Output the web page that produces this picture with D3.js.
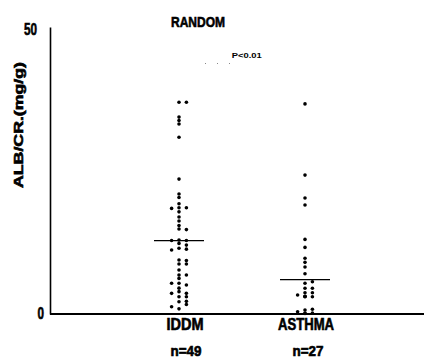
<!DOCTYPE html>
<html><head><meta charset="utf-8">
<script src="https://cdn.jsdelivr.net/npm/d3@7"></script>
<style>body{margin:0;background:#fff} svg{display:block} text.heavy{stroke:#000;stroke-width:0.6px;paint-order:stroke}</style>
</head>
<body><svg id="c" width="427" height="358"></svg>
<script>
// ---- data ----
const categories = ["IDDM", "ASTHMA"];
const countLabels = ["n=49", "n=27"];
const iddm = [36.9, 36.9, 34.3, 33.7, 33.1, 30.8, 23.5, 20.9, 20.3, 19.2,
  18.5, 18.5, 18.4, 17.8, 16.9, 16.2, 15.4, 14.8, 14.7, 12.9,
  12.8, 12.8, 12.3, 12.0, 11.45, 11.3, 11.15, 9.4, 9.3, 8.7,
  8.7, 7.66, 0.9, 6.8, 6.8, 6.2, 5.35, 5.05, 5.35, 4.5,
  3.89, 3.6, 3.6, 3.0, 3.0, 2.14, 2.2, 1.65, 1.27];
const asthma = [36.6, 24.2, 20.2, 19.0, 13.0, 11.6, 9.7, 9.0, 8.2, 7.0,
  5.35, 5.63, 4.48, 4.48, 3.71, 3.71, 3.31, 3.01, 3.01, 0.7,
  0.82, 0.15, 0.15, 0.4, 0.1, 3.1, 3.05];
const medians = [12.8, 6.0];
const yTicks = [0, 50];
const titleText = "RANDOM";
const pText = "P<0.01";
const yLabelText = "ALB/CR.(mg/g)";

// ---- layout ----
const plotLeft = 50, plotRight = 424, plotTop = 27, plotBottom = 314;
const svg = d3.select("#c");
const font = "'Liberation Sans',Arial,sans-serif";

const y = d3.scaleLinear().domain([0, 50]).range([plotBottom, plotTop]);
const x = d3.scalePoint().domain(categories).range([179, 305]);
const slot = d3.scaleLinear().domain([-1, 1]).range([-7.4, 7.4]);

function swarm(vals) {
  const placed = [];
  const thr = 0.52;
  return vals.map(v => {
    let s = [0, 1, -1].find(k => !placed.some(p => p.s === k && Math.abs(p.v - v) < thr));
    if (s === undefined) s = 0;
    placed.push({v, s});
    return {v, s};
  });
}
function fit(sel, len) {
  sel.attr("textLength", len).attr("lengthAdjust", "spacingAndGlyphs");
}

// y axis
const yAxis = svg.append("g").attr("transform", `translate(${plotLeft},0)`)
  .call(d3.axisLeft(y).tickValues(yTicks).tickSize(0).tickSizeOuter(0).tickPadding(6).tickFormat(d3.format("d")));
yAxis.select(".domain").attr("stroke", "#000").attr("stroke-width", 1.6);
yAxis.selectAll("text").attr("class", "heavy").attr("font-family", font).attr("font-weight", "bold")
  .attr("font-size", 16).attr("fill", "#000")
  .attr("textLength", d => d === 50 ? 13 : 6.5).attr("lengthAdjust", "spacingAndGlyphs");
yAxis.selectAll(".tick").filter(d => d === 50).select("text").attr("dx", -7).attr("dy", "0.45em");
yAxis.selectAll(".tick").filter(d => d === 0).select("text").attr("dy", "0.3em");

// x axis line
svg.append("line").attr("x1", plotLeft).attr("x2", plotRight)
  .attr("y1", y(0)).attr("y2", y(0)).attr("stroke", "#000").attr("stroke-width", 2);

// dots
const groups = [iddm, asthma];
groups.forEach((vals, i) => {
  const cx = x(categories[i]);
  svg.append("g").selectAll("circle").data(swarm(vals)).join("circle")
    .attr("cx", d => cx + slot(d.s))
    .attr("cy", d => y(d.v))
    .attr("r", 1.8)
    .attr("fill", "#000");
});

// medians
svg.append("g").selectAll("line").data(medians).join("line")
  .attr("x1", (d, i) => x(categories[i]) - 25)
  .attr("x2", (d, i) => x(categories[i]) + 25)
  .attr("y1", d => y(d)).attr("y2", d => y(d))
  .attr("stroke", "#000").attr("stroke-width", 1.3);

// category labels
const catLen = [37, 56];
svg.append("g").selectAll("text").data(categories).join("text")
  .attr("class", "heavy")
  .attr("x", (d, i) => x(d) + (i === 0 ? 6 : 1)).attr("y", 330)
  .attr("text-anchor", "middle").attr("font-family", font)
  .attr("font-weight", "bold").attr("font-size", 16).text(d => d)
  .attr("textLength", (d, i) => catLen[i]).attr("lengthAdjust", "spacingAndGlyphs");
svg.append("g").selectAll("text").data(countLabels).join("text")
  .attr("class", "heavy")
  .attr("x", (d, i) => x(categories[i]) + (i === 0 ? 7 : 3)).attr("y", 356)
  .attr("text-anchor", "middle").attr("font-family", font)
  .attr("font-weight", "bold").attr("font-size", 14).text(d => d)
  .attr("textLength", 31).attr("lengthAdjust", "spacingAndGlyphs");

// title
svg.append("text").attr("class", "heavy").attr("x", 198).attr("y", 26.5).attr("text-anchor", "middle")
  .attr("font-family", font).attr("font-weight", "bold").attr("font-size", 15).text(titleText)
  .call(fit, 54);

// p value
svg.append("text").attr("x", 246.7).attr("y", 57.5).attr("text-anchor", "middle")
  .attr("font-family", font).attr("font-weight", "bold").attr("font-size", 8).text(pText)
  .call(fit, 30);
svg.append("line").attr("x1", 205).attr("x2", 241).attr("y1", 63.5).attr("y2", 63.5)
  .attr("stroke", "#888").attr("stroke-width", 1).attr("stroke-dasharray", "1,11");

// y label
svg.append("text").attr("class", "heavy").attr("transform", `translate(23,125) rotate(-90)`)
  .attr("text-anchor", "middle").attr("font-family", font).attr("font-weight", "bold")
  .attr("font-size", 13).text(yLabelText).call(fit, 126);
</script>
</body></html>
